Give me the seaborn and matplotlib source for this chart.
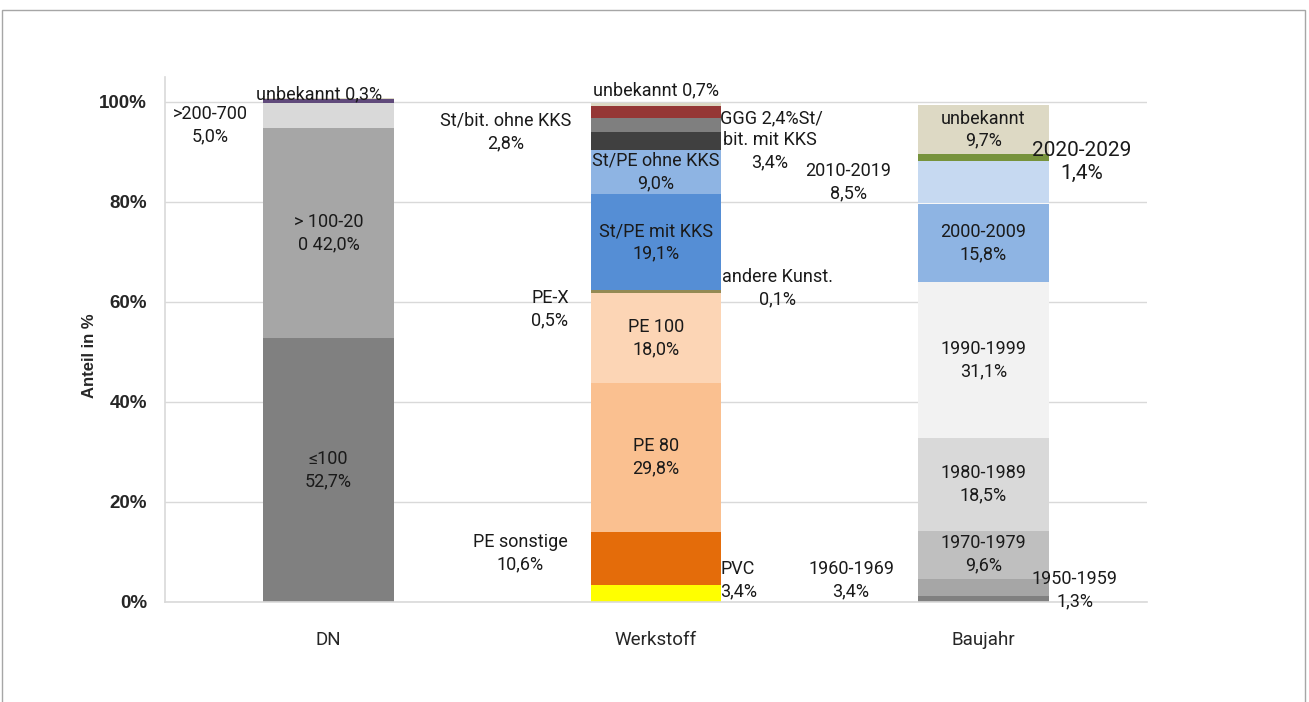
import pandas as pd
import seaborn as sns
import matplotlib.pyplot as plt
from matplotlib.patches import Rectangle

# --- data (bottom to top within each bar) ---
groups = ["DN", "Werkstoff", "Baujahr"]

dn_names = ["≤100", "> 100-200", ">200-700", ">700", "unbekannt"]
dn_values = [52.7, 42.0, 5.0, 0.8, 0.3]

ws_names = ["PVC", "PE sonstige", "PE 80", "PE 100", "PE-X", "andere Kunst.",
            "St/PE mit KKS", "St/PE ohne KKS", "St/bit. mit KKS",
            "St/bit. ohne KKS", "GGG", "unbekannt"]
ws_values = [3.4, 10.6, 29.8, 18.0, 0.5, 0.1, 19.1, 9.0, 3.4, 2.8, 2.4, 0.7]

bj_names = ["1950-1959", "1960-1969", "1970-1979", "1980-1989", "1990-1999",
            "2000-2009", "2010-2019", "2020-2029", "unbekannt"]
bj_values = [1.3, 3.4, 9.6, 18.5, 31.1, 15.8, 8.5, 1.4, 9.7]

ytick_values = [0, 20, 40, 60, 80, 100]

# --- colours ---
dn_colors = ["#808080", "#a6a6a6", "#d9d9d9", "#604a7b", "#ddd9c4"]
ws_colors = ["#ffff00", "#e46c0a", "#fac090", "#fcd5b5", "#948a54", "#c3d69b",
             "#558ed5", "#8eb4e3", "#404040", "#7f7f7f", "#953735", "#ddd9c4"]
bj_colors = ["#808080", "#a6a6a6", "#bfbfbf", "#d9d9d9", "#f2f2f2",
             "#8eb4e3", "#c6d9f1", "#77933c", "#ddd9c4"]

series = {
    "DN": (dn_names, dn_values, dn_colors),
    "Werkstoff": (ws_names, ws_values, ws_colors),
    "Baujahr": (bj_names, bj_values, bj_colors),
}

rows = []
palette = {}
for g in groups:
    names, vals, cols = series[g]
    for n, v, c in zip(names, vals, cols):
        key = g + "|" + n
        rows.append({"group": g, "key": key, "name": n, "value": v})
        palette[key] = c
df = pd.DataFrame(rows)
# seaborn stacks the last hue level at the bottom
hue_order = list(df["key"])[::-1]

sns.set_style("white")
plt.rcParams["font.family"] = ["Roboto", "DejaVu Sans"]

fig = plt.figure(figsize=(13.09, 7.02), dpi=100)
ax = fig.add_axes([165 / 1309, 1 - 602 / 702, 982 / 1309, 525 / 702])

sns.histplot(data=df, x="group", hue="key", weights="value", multiple="stack",
             discrete=True, shrink=0.4, hue_order=hue_order, palette=palette,
             alpha=1, linewidth=0, legend=False, ax=ax)


def pct(v):
    return f"{v:.1f}".replace(".", ",") + "%"


# outside label placement: key -> (x, y, text, size)
outside = {
    "DN|>200-700": (-0.362, 95.4, None, 13),
    "DN|unbekannt": (-0.03, 101.6, "unbekannt 0,3%", 13),
    "DN|>700": None,
    "Werkstoff|PVC": (1.251, 4.4, None, 13),
    "Werkstoff|PE sonstige": (0.585, 9.8, None, 13),
    "Werkstoff|PE-X": (0.676, 58.6, None, 13),
    "Werkstoff|andere Kunst.": (1.37, 62.8, None, 13),
    "Werkstoff|St/bit. mit KKS": (1.348, 90.1, "bit. mit KKS\n3,4%", 13),
    "Werkstoff|GGG": (1.196, 96.8, "GGG 2,4%St/", 13),
    "Werkstoff|St/bit. ohne KKS": (0.542, 94.0, None, 13),
    "Werkstoff|unbekannt": (1.0, 102.4, "unbekannt 0,7%", 13),
    "Baujahr|1950-1959": (2.28, 2.4, None, 13),
    "Baujahr|1960-1969": (1.596, 4.4, None, 13),
    "Baujahr|2010-2019": (1.587, 84.0, None, 13),
    "Baujahr|2020-2029": (2.30, 88.0, None, 15),
}
left_aligned = {"Werkstoff|GGG"}
inside_text = {"DN|> 100-200": "> 100-20\n0 42,0%"}

for gi, g in enumerate(groups):
    names, vals, _ = series[g]
    base = 0.0
    for n, v in zip(names, vals):
        key = g + "|" + n
        mid = base + v / 2
        base += v
        if key in outside:
            spec = outside[key]
            if spec is None:
                continue
            x, y, txt, size = spec
            ax.text(x, y, txt or f"{n}\n{pct(v)}",
                    ha="left" if key in left_aligned else "center",
                    va="center", fontsize=size, color="#1a1a1a",
                    linespacing=1.3, multialignment="center")
        else:
            txt = inside_text.get(key, f"{n}\n{pct(v)}")
            ax.text(gi, mid, txt, ha="center", va="center", fontsize=13,
                    color="#1a1a1a", linespacing=1.3)

# --- axes styling ---
ax.set_xlim(-0.5, 2.5)
ax.set_ylim(0, 105)
ax.set_xticks(range(len(groups)), labels=groups, fontsize=13.5)
ax.set_xticks([-0.5, 0.5, 1.5, 2.5], minor=True)
ax.tick_params(axis="x", which="major", length=0, pad=21)
ax.tick_params(axis="x", which="minor", length=6, color="#d9d9d9", width=1)
ax.set_yticks(ytick_values, labels=[f"{t}%" for t in ytick_values],
              fontsize=13.5, fontweight="bold", fontfamily="Liberation Sans")
ax.tick_params(axis="y", length=5, color="#d9d9d9", width=1, pad=8)
ax.set_xlabel("")
ax.set_ylabel("Anteil in %", fontsize=12, fontweight="bold",
              fontfamily="Liberation Sans")
ax.yaxis.set_label_coords(-0.069, 0.47)
ax.yaxis.grid(True, color="#d9d9d9", linewidth=1)
ax.set_axisbelow(True)
for s in ["top", "right"]:
    ax.spines[s].set_visible(False)
for s in ["left", "bottom"]:
    ax.spines[s].set_color("#d9d9d9")
    ax.spines[s].set_linewidth(1.2)

# chart frame
fig.patches.append(Rectangle((2 / 1309, -0.05), 1303 / 1309, 1.05 - 10 / 702,
                             transform=fig.transFigure, fill=False,
                             edgecolor="#a6a6a6", linewidth=1))

fig.savefig("out.png", dpi=100)
